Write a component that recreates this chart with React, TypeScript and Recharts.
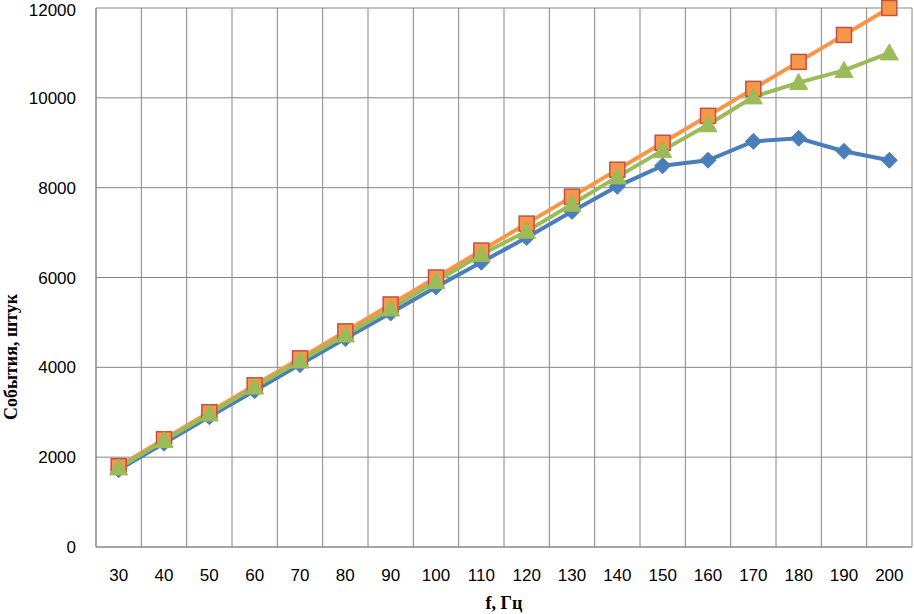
import React from 'react';
import { LineChart, Line, XAxis, YAxis, CartesianGrid, ReferenceLine } from 'recharts';

const freqs = [30, 40, 50, 60, 70, 80, 90, 100, 110, 120, 130, 140, 150, 160, 170, 180, 190, 200];
const seriesBlue = [1720, 2310, 2900, 3480, 4060, 4640, 5210, 5790, 6340, 6890, 7470, 8030, 8490, 8610, 9030, 9100, 8810, 8610];
const seriesOrange = [1800, 2400, 3000, 3600, 4200, 4800, 5400, 6000, 6600, 7200, 7800, 8400, 9000, 9600, 10200, 10800, 11400, 12000];
const seriesGreen = [1760, 2370, 2960, 3560, 4140, 4720, 5300, 5910, 6510, 7030, 7630, 8240, 8830, 9400, 10020, 10340, 10610, 11000];
const yTicks = [0, 2000, 4000, 6000, 8000, 10000, 12000];
const gridBounds = [25, 35, 45, 55, 65, 75, 85, 95, 105, 115, 125, 135, 145, 155, 165, 175, 185, 195, 205];

const data = freqs.map((f, i) => ({ f, a: seriesBlue[i], b: seriesOrange[i], c: seriesGreen[i] }));

const GRID = '#868686';

const Diamond = (p: any) => {
  const { cx, cy } = p;
  if (cx == null || cy == null) return null;
  const r = 8;
  return <path d={`M${cx},${cy - r}L${cx + r},${cy}L${cx},${cy + r}L${cx - r},${cy}Z`} fill="#4A7EBB" stroke="#4A7EBB" strokeWidth={1} />;
};
const Square = (p: any) => {
  const { cx, cy } = p;
  if (cx == null || cy == null) return null;
  const r = 7.5;
  return <rect x={cx - r} y={cy - r} width={2 * r} height={2 * r} fill="#F79646" stroke="#C0504D" strokeWidth={1.5} />;
};
const Triangle = (p: any) => {
  const { cx, cy } = p;
  if (cx == null || cy == null) return null;
  return <path d={`M${cx},${cy - 9}L${cx + 9},${cy + 7}L${cx - 9},${cy + 7}Z`} fill="#9BBB59" stroke="#9BBB59" strokeWidth={1} />;
};

export default function App() {
  return (
    <div style={{ position: 'absolute', left: 0, top: 0, background: '#fff' }}>
      <LineChart width={914} height={614} data={data} margin={{ top: 8, right: 2, bottom: 0, left: 0 }}>
        <CartesianGrid vertical={false} stroke={GRID} strokeWidth={1} />
        {gridBounds.map((b) => (
          <ReferenceLine key={b} x={b} stroke={GRID} strokeWidth={1} />
        ))}
        <XAxis
          dataKey="f"
          type="number"
          domain={[25, 205]}
          ticks={freqs}
          interval={0}
          height={67}
          tickSize={0}
          tickMargin={22}
          axisLine={{ stroke: GRID }}
          tick={{ fill: '#000', fontSize: 17, fontFamily: 'Liberation Sans, Arial, sans-serif' }}
          label={(props: any) => (
            <text x={504} y={609} textAnchor="middle" fontFamily="Liberation Serif, Times New Roman, serif" fontWeight="bold" fontSize={18} fill="#000">
              f, Гц
            </text>
          )}
        />
        <YAxis
          type="number"
          domain={[0, 12000]}
          ticks={yTicks}
          width={96}
          tickSize={0}
          tickMargin={20}
          axisLine={{ stroke: GRID }}
          tick={{ fill: '#000', fontSize: 17, fontFamily: 'Liberation Sans, Arial, sans-serif' }}
          label={(props: any) => (
            <text x={17} y={357} transform="rotate(-90 17 357)" textAnchor="middle" fontFamily="Liberation Serif, Times New Roman, serif" fontWeight="bold" fontSize={18} fill="#000">
              События, штук
            </text>
          )}
        />
        <Line dataKey="a" stroke="#4A7EBB" strokeWidth={4} dot={<Diamond />} isAnimationActive={false} />
        <Line dataKey="b" stroke="#F79646" strokeWidth={4} dot={<Square />} isAnimationActive={false} />
        <Line dataKey="c" stroke="#9BBB59" strokeWidth={4} dot={<Triangle />} isAnimationActive={false} />
      </LineChart>
    </div>
  );
}
